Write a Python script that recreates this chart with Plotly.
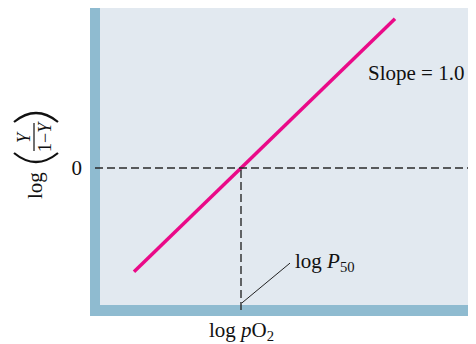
import plotly.graph_objects as go

# data
line_x = [-1.07, 1.54]
slope = 1.0
line_y = [slope * v for v in line_x]
p50_x = 0.0
zero_y = 0.0
ytick_vals = [0]
ytick_text = ["0"]
x_title = "log <i>p</i>O<sub>2</sub>"
y_title_log = "log"
y_title_num = "<i>Y</i>"
y_title_den = "1−<i>Y</i>"
slope_label = "Slope = 1.0"
p50_label = "log <i>P</i><sub>50</sub>"

X_RANGE = [-1.41, 2.35]
Y_RANGE = [-1.412, 1.65]

FONT = "Liberation Serif"
FS = 21
BAR = "#8fbbd0"
BG = "#e2e9f0"
PINK = "#ea0a88"
INK = "#111"

# plot area in window pixels (figure sits at an 8px body margin)
PL, PR, PT, PB = 100, 476, 8, 305
W, H = PR - PL, PB - PT


def px(x):
    return (x - PL) / W


def py(y):
    return (PB - y) / H


fig = go.Figure()
fig.add_trace(go.Scatter(x=line_x, y=line_y, mode="lines",
                         line=dict(color=PINK, width=3.5), showlegend=False, hoverinfo="skip"))

dash = dict(color="#2a2a2a", width=1.4, dash="8px,4px")
shapes = [
    dict(type="rect", xref="paper", yref="paper", x0=px(90), x1=0, y0=py(316), y1=1,
         fillcolor=BAR, line=dict(width=0), layer="above"),
    dict(type="rect", xref="paper", yref="paper", x0=px(90), x1=1, y0=py(316), y1=0,
         fillcolor=BAR, line=dict(width=0), layer="above"),
    dict(type="line", xref="paper", yref="y", x0=px(95), x1=1, y0=zero_y, y1=zero_y,
         line=dash, layer="above"),
    dict(type="line", xref="x", yref="paper", x0=p50_x, x1=p50_x, y0=py(310), y1=py(168),
         line=dash, layer="above"),
    # leader line to log P50 label
    dict(type="line", xref="x", yref="y", x0=p50_x + 0.01, y0=-1.39, x1=0.49, y1=-0.98,
         line=dict(color="#222", width=1), layer="above"),
    # y title: fraction bar and big parentheses
    dict(type="line", xref="paper", yref="paper", x0=px(34), x1=px(34), y0=py(123), y1=py(151),
         line=dict(color=INK, width=1.2)),
    dict(type="path", xref="paper", yref="paper",
         path=f"M {px(14)},{py(122)} Q {px(36)},{py(104)} {px(58)},{py(122)}",
         line=dict(color=INK, width=2.2)),
    dict(type="path", xref="paper", yref="paper",
         path=f"M {px(14)},{py(153)} Q {px(36)},{py(171)} {px(58)},{py(153)}",
         line=dict(color=INK, width=2.2)),
]

annotations = [
    dict(text=slope_label, x=1.25, y=0.98, xref="x", yref="y", xanchor="left", yanchor="middle",
         showarrow=False, font=dict(family=FONT, size=FS, color=INK)),
    dict(text=p50_label, x=0.52, y=-0.97, xref="x", yref="y", xanchor="left", yanchor="middle",
         showarrow=False, font=dict(family=FONT, size=FS, color=INK)),
    dict(text=x_title, x=p50_x, y=py(331), xref="x", yref="paper", xanchor="center", yanchor="middle",
         showarrow=False, font=dict(family=FONT, size=FS, color=INK)),
    dict(text=y_title_log, x=px(35), y=py(186), xref="paper", yref="paper", xanchor="center",
         yanchor="middle", textangle=-90, showarrow=False, font=dict(family=FONT, size=FS, color=INK)),
    dict(text=y_title_num, x=px(24), y=py(137), xref="paper", yref="paper", xanchor="center",
         yanchor="middle", textangle=-90, showarrow=False, font=dict(family=FONT, size=18, color=INK)),
    dict(text=y_title_den, x=px(45), y=py(137), xref="paper", yref="paper", xanchor="center",
         yanchor="middle", textangle=-90, showarrow=False, font=dict(family=FONT, size=18, color=INK)),
]

FIG_W, FIG_H = 468, 336
fig.update_layout(
    width=FIG_W, height=FIG_H,
    margin=dict(l=PL - 8, r=0, t=PT - 8, b=(8 + FIG_H) - PB),
    paper_bgcolor="white", plot_bgcolor=BG,
    xaxis=dict(range=X_RANGE, showgrid=False, zeroline=False, showticklabels=False, ticks="", showline=False),
    yaxis=dict(range=Y_RANGE, showgrid=False, zeroline=False, tickvals=ytick_vals, ticktext=ytick_text,
               ticks="", ticklabelstandoff=17, showline=False,
               tickfont=dict(family=FONT, size=FS, color=INK)),
    shapes=shapes, annotations=annotations,
)

fig.write_html("out.html")
